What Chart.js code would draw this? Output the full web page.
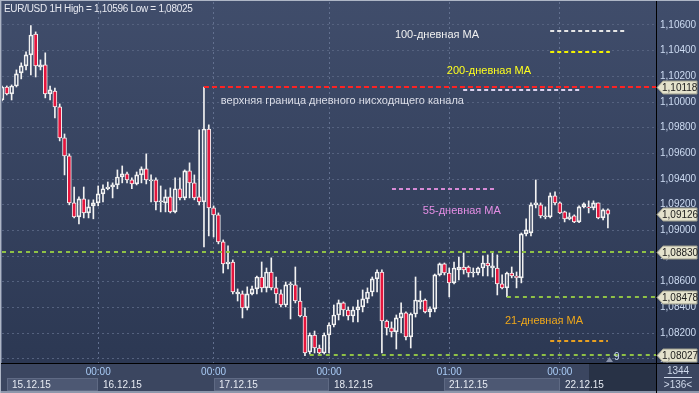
<!DOCTYPE html>
<html>
<head>
<meta charset="utf-8">
<script src="https://cdn.jsdelivr.net/npm/chart.js@4"></script>
<style>
  body { margin: 0; background: #34405c; }
  canvas { display: block; }
</style>
</head>
<body>
<canvas id="chart" width="699" height="393"></canvas>
<script>
  // trading sessions on screen: date, first hour, last hour (1H bars)
  const sessions = [
    ['15.12.15', 4, 23], ['16.12.15', 0, 23], ['17.12.15', 0, 23],
    ['18.12.15', 0, 23], ['21.12.15', 0, 23], ['22.12.15', 0, 10]
  ];
  const emptySlots = 10; // free space right of the last bar

  const opens = [
    1.10016, 1.10117, 1.10063, 1.10125, 1.10227, 1.10281, 1.10367, 1.10530, 1.10273, 1.10289,
    1.10063, 1.10086, 1.09962, 1.09720, 1.09580, 1.09214, 1.09105, 1.09245, 1.09136, 1.09191,
    1.09214, 1.09285, 1.09324, 1.09338, 1.09354, 1.09416, 1.09440, 1.09393, 1.09362, 1.09432,
    1.09479, 1.09385, 1.09393, 1.09222, 1.09214, 1.09261, 1.09144, 1.09324, 1.09253, 1.09463,
    1.09370, 1.09261, 1.09222, 1.09790, 1.09175, 1.09121, 1.08910, 1.08739, 1.08754, 1.08505,
    1.08505, 1.08396, 1.08505, 1.08544, 1.08637, 1.08552, 1.08676, 1.08552, 1.08505, 1.08419,
    1.08575, 1.08575, 1.08450, 1.08333, 1.08053, 1.08185, 1.08084, 1.08045, 1.08185, 1.08263,
    1.08341, 1.08435, 1.08380, 1.08333, 1.08380, 1.08404, 1.08466, 1.08520, 1.08622, 1.08676,
    1.08294, 1.08240, 1.08209, 1.08318, 1.08357, 1.08170, 1.08349, 1.08443, 1.08458, 1.08365,
    1.08388, 1.08653, 1.08739, 1.08668, 1.08591, 1.08692, 1.08715, 1.08715, 1.08668, 1.08668,
    1.08707, 1.08746, 1.08707, 1.08707, 1.08583, 1.08552, 1.08668, 1.08645, 1.08630, 1.08973,
    1.08980, 1.09199, 1.09199, 1.09105, 1.09105, 1.09269, 1.09214, 1.09144, 1.09090, 1.09113,
    1.09066, 1.09183, 1.09183, 1.09175, 1.09214, 1.09097, 1.09160
  ];
  const highs = [
    1.10125, 1.10125, 1.10133, 1.10250, 1.10305, 1.10390, 1.10596, 1.10546, 1.10328, 1.10383,
    1.10125, 1.10109, 1.09985, 1.09751, 1.09596, 1.09338, 1.09261, 1.09338, 1.09238, 1.09238,
    1.09346, 1.09354, 1.09377, 1.09370, 1.09471, 1.09502, 1.09455, 1.09409, 1.09455, 1.09495,
    1.09596, 1.09432, 1.09409, 1.09346, 1.09316, 1.09331, 1.09409, 1.09409, 1.09471, 1.09526,
    1.09432, 1.09783, 1.10117, 1.09822, 1.09191, 1.09136, 1.08926, 1.08879, 1.08770, 1.08544,
    1.08528, 1.08560, 1.08567, 1.08645, 1.08754, 1.08707, 1.08786, 1.08637, 1.08536, 1.08598,
    1.08598, 1.08715, 1.08552, 1.08396, 1.08201, 1.08216, 1.08107, 1.08201, 1.08279, 1.08419,
    1.08458, 1.08443, 1.08404, 1.08404, 1.08458, 1.08536, 1.08552, 1.08637, 1.08692, 1.08692,
    1.08302, 1.08287, 1.08341, 1.08435, 1.08365, 1.08357, 1.08637, 1.08528, 1.08466, 1.08404,
    1.08660, 1.08746, 1.08746, 1.08707, 1.08754, 1.08793, 1.08824, 1.08723, 1.08707, 1.08715,
    1.08801, 1.08809, 1.08832, 1.08809, 1.08653, 1.08676, 1.08715, 1.08676, 1.08980, 1.09090,
    1.09214, 1.09393, 1.09214, 1.09183, 1.09292, 1.09300, 1.09222, 1.09150, 1.09136, 1.09121,
    1.09191, 1.09214, 1.09230, 1.09230, 1.09214, 1.09168, 1.09168
  ];
  const lows = [
    1.10008, 1.10055, 1.10016, 1.10117, 1.10180, 1.10250, 1.10211, 1.10195, 1.10250, 1.10032,
    1.10016, 1.09877, 1.09697, 1.09432, 1.09199, 1.09097, 1.09051, 1.09097, 1.09097, 1.09090,
    1.09191, 1.09222, 1.09316, 1.09253, 1.09324, 1.09370, 1.09370, 1.09324, 1.09354, 1.09370,
    1.09362, 1.09222, 1.09160, 1.09144, 1.09144, 1.09136, 1.09136, 1.09238, 1.09238, 1.09253,
    1.09238, 1.09199, 1.08871, 1.08957, 1.08949, 1.08895, 1.08668, 1.08700, 1.08505, 1.08450,
    1.08318, 1.08380, 1.08497, 1.08505, 1.08520, 1.08520, 1.08536, 1.08435, 1.08404, 1.08404,
    1.08310, 1.08435, 1.08325, 1.08025, 1.08037, 1.08045, 1.08029, 1.08037, 1.08045, 1.08248,
    1.08302, 1.08333, 1.08302, 1.08287, 1.08287, 1.08365, 1.08435, 1.08489, 1.08520, 1.08045,
    1.08185, 1.08170, 1.08076, 1.08201, 1.08146, 1.08084, 1.08325, 1.08388, 1.08357, 1.08325,
    1.08365, 1.08645, 1.08653, 1.08482, 1.08583, 1.08614, 1.08660, 1.08637, 1.08637, 1.08653,
    1.08645, 1.08645, 1.08637, 1.08497, 1.08544, 1.08482, 1.08630, 1.08552, 1.08591, 1.08957,
    1.08957, 1.09175, 1.09097, 1.09090, 1.09097, 1.09199, 1.09130, 1.09066, 1.09082, 1.09060,
    1.09060, 1.09175, 1.09136, 1.09160, 1.09090, 1.09082, 1.09020
  ];
  const closes = [
    1.10117, 1.10063, 1.10125, 1.10219, 1.10281, 1.10367, 1.10522, 1.10281, 1.10289, 1.10063,
    1.10094, 1.09962, 1.09720, 1.09580, 1.09214, 1.09105, 1.09245, 1.09136, 1.09183, 1.09214,
    1.09285, 1.09324, 1.09338, 1.09354, 1.09416, 1.09440, 1.09393, 1.09362, 1.09432, 1.09479,
    1.09393, 1.09393, 1.09222, 1.09230, 1.09261, 1.09144, 1.09324, 1.09253, 1.09463, 1.09370,
    1.09253, 1.09222, 1.09790, 1.09175, 1.09121, 1.08910, 1.08739, 1.08754, 1.08520, 1.08520,
    1.08396, 1.08505, 1.08544, 1.08637, 1.08552, 1.08676, 1.08552, 1.08505, 1.08419, 1.08575,
    1.08583, 1.08450, 1.08333, 1.08045, 1.08185, 1.08084, 1.08045, 1.08185, 1.08263, 1.08341,
    1.08435, 1.08380, 1.08333, 1.08380, 1.08404, 1.08466, 1.08520, 1.08622, 1.08676, 1.08294,
    1.08240, 1.08209, 1.08318, 1.08357, 1.08170, 1.08349, 1.08458, 1.08458, 1.08365, 1.08388,
    1.08653, 1.08739, 1.08668, 1.08591, 1.08707, 1.08715, 1.08692, 1.08668, 1.08676, 1.08707,
    1.08746, 1.08723, 1.08723, 1.08583, 1.08552, 1.08668, 1.08645, 1.08630, 1.08973, 1.09004,
    1.09199, 1.09214, 1.09113, 1.09113, 1.09269, 1.09214, 1.09136, 1.09090, 1.09105, 1.09066,
    1.09183, 1.09206, 1.09175, 1.09214, 1.09097, 1.09160, 1.09126
  ];

  // price scale
  const priceMin = 1.07967;
  const priceMax = 1.10779;
  const priceStep = 0.002;

  // horizontal levels (price, first bar)
  const levelPrices = [1.10118, 1.08830, 1.08478, 1.08027];
  const levelStarts = [42, 0, 105, 64];
  // boxed prices on the right axis
  const markedPrices = [1.10118, 1.09126, 1.08830, 1.08478, 1.08027];

  // moving average notes: text, text anchor, marker price and bar span
  const maNames = ['100-дневная МА', '200-дневная МА', '55-дневная МА', '21-дневная МА'];
  const maTextBars = [81.7, 92.5, 87.5, 104.6];
  const maTextPrices = [1.10522, 1.10242, 1.09151, 1.08297];
  const maMarkPrices = [1.10553, 1.10390, 1.09323, 1.08139];
  const maMarkFrom = [114, 114, 81.1, 114];
  const maMarkTo = [130, 126.4, 102.9, 126];
  const channelNote = 'верхняя граница дневного нисходящего канала';

  const timeMarks = ['16.12.15 00:00', '17.12.15 00:00', '18.12.15 00:00', '21.12.15 01:00', '22.12.15 00:00'];

  // build bar labels
  const labels = [];
  sessions.forEach(s => {
    for (let h = s[1]; h <= s[2]; h++) {
      labels.push(s[0] + ' ' + String(h).padStart(2, '0') + ':00');
    }
  });
  for (let k = 0; k < emptySlots; k++) labels.push('');
  const markIdx = timeMarks.map(t => labels.indexOf(t));

  const font = "'Liberation Sans', Arial, sans-serif";
  const white = '#f2f2f2';
  const red = '#e5153d';

  const maColors = ['#f0f0f0', '#ffff1e', '#e58ee5', '#f0a81a'];
  const maMarkColors = ['#e6e6e6', '#f2f200', '#d68ad6', '#e9a020'];
  const levelColors = ['#ff2222', '#8fc146', '#8fc146', '#8fc146'];

  const fmt = v => v.toFixed(5).replace('.', ',');

  function dashed(ctx, x1, x2, y, color, dash) {
    ctx.save();
    ctx.strokeStyle = color;
    ctx.lineWidth = 2;
    ctx.setLineDash(dash);
    ctx.beginPath();
    ctx.moveTo(x1, Math.round(y));
    ctx.lineTo(x2, Math.round(y));
    ctx.stroke();
    ctx.restore();
  }

  const backdrop = {
    id: 'backdrop',
    beforeDraw(chart) {
      const ctx = chart.ctx;
      const g = ctx.createLinearGradient(0, 0, 0, 363);
      g.addColorStop(0, '#404d6b');
      g.addColorStop(1, '#2c3853');
      ctx.save();
      ctx.fillStyle = g;
      ctx.fillRect(0, 0, 699, 364);
      ctx.restore();
    }
  };

  const notes = {
    id: 'notes',
    afterDatasetsDraw(chart) {
      const ctx = chart.ctx;
      const x = chart.scales.x, y = chart.scales.y;
      const area = chart.chartArea;
      ctx.save();
      ctx.beginPath();
      ctx.rect(area.left, area.top, area.right - area.left, area.bottom - area.top);
      ctx.clip();

      // lavender MA line under the channel line
      dashed(ctx, x.getPixelForValue(95.9), x.getPixelForValue(120.2), y.getPixelForValue(1.10102) + 1, '#d9d2ee', [4, 3]);

      levelPrices.forEach((p, i) => {
        dashed(ctx, x.getPixelForValue(levelStarts[i]), area.right, y.getPixelForValue(p),
          levelColors[i], i === 0 ? [5, 3] : [4, 4]);
      });
      maMarkPrices.forEach((p, i) => {
        dashed(ctx, x.getPixelForValue(maMarkFrom[i]), x.getPixelForValue(maMarkTo[i]), y.getPixelForValue(p),
          maMarkColors[i], [4, 3]);
      });

      ctx.font = '11px ' + font;
      ctx.textBaseline = 'middle';
      ctx.textAlign = 'left';
      maNames.forEach((t, i) => {
        ctx.fillStyle = maColors[i];
        ctx.fillText(t, x.getPixelForValue(maTextBars[i]), y.getPixelForValue(maTextPrices[i]));
      });
      ctx.fillStyle = '#dcdee8';
      ctx.fillText(channelNote, x.getPixelForValue(45.5), y.getPixelForValue(1.10011));

      // small "9" marker at the bottom
      ctx.fillStyle = '#8a94aa';
      ctx.beginPath();
      ctx.moveTo(606, 362); ctx.lineTo(609.5, 357); ctx.lineTo(613, 362);
      ctx.fill();
      ctx.font = '10px ' + font;
      ctx.fillStyle = '#c6d6f0';
      ctx.fillText('9', 614, 357);
      ctx.restore();
    },
    afterDraw(chart) {
      const ctx = chart.ctx;
      const x = chart.scales.x, y = chart.scales.y;
      ctx.save();

      // bottom time panel
      ctx.fillStyle = '#3b4660';
      ctx.fillRect(0, 364, 699, 29);
      const dayStarts = sessions.map(s => labels.indexOf(s[0] + ' ' + String(s[1]).padStart(2, '0') + ':00'));
      ctx.font = '10px ' + font;
      ctx.textBaseline = 'middle';
      sessions.forEach((s, i) => {
        const x1 = Math.max(7, Math.round(x.getPixelForValue(dayStarts[i])));
        const x2 = i + 1 < sessions.length ? Math.round(x.getPixelForValue(dayStarts[i + 1])) : 656;
        if (i % 2 === 0) {
          ctx.fillStyle = '#4d5873';
          ctx.fillRect(x1, 378, x2 - x1, 13);
          ctx.strokeStyle = '#5f6a84';
          ctx.lineWidth = 1;
          ctx.strokeRect(x1 + 0.5, 378.5, x2 - x1 - 1, 12);
        }
      });
      ctx.fillStyle = 'rgba(28,36,54,0.6)';
      ctx.fillRect(589, 364, 67, 27);
      sessions.forEach((s, i) => {
        const x1 = Math.max(7, Math.round(x.getPixelForValue(dayStarts[i])));
        ctx.fillStyle = '#e6eaf2';
        ctx.textAlign = 'left';
        ctx.fillText(s[0], x1 + 5, 385);
      });
      ctx.textAlign = 'center';
      ctx.fillStyle = '#a9cbf5';
      markIdx.forEach((m, i) => {
        ctx.fillText(timeMarks[i].slice(9), x.getPixelForValue(m), 372);
      });
      ctx.fillStyle = '#8d97ab';
      ctx.fillRect(0, 391, 699, 2);

      // corner counter
      ctx.fillStyle = '#3b4660';
      ctx.fillRect(657, 364, 42, 27);
      ctx.fillStyle = '#cfd9ea';
      ctx.fillText('1344', 678, 371);
      ctx.fillText('>136<', 678, 385);
      ctx.fillRect(664, 377, 28, 1);

      // frame lines
      ctx.fillStyle = '#000000';
      ctx.fillRect(0, 363, 699, 1);
      ctx.fillRect(656, 0, 1, 393);
      ctx.fillStyle = '#aeb6c6';
      ctx.fillRect(0, 0, 1, 393);
      ctx.fillRect(0, 0, 699, 1);
      ctx.fillStyle = '#69748e';
      ctx.fillRect(1, 1, 1, 362);

      // boxed prices
      ctx.font = '10px ' + font;
      ctx.textAlign = 'left';
      markedPrices.forEach(p => {
        const yy = Math.round(y.getPixelForValue(p)) + 0.5;
        ctx.beginPath();
        ctx.moveTo(657, yy);
        ctx.lineTo(663, yy - 6.5);
        ctx.lineTo(697, yy - 6.5);
        ctx.lineTo(697, yy + 6.5);
        ctx.lineTo(663, yy + 6.5);
        ctx.closePath();
        ctx.fillStyle = '#e4e2cc';
        ctx.fill();
        ctx.strokeStyle = '#9c9c8c';
        ctx.lineWidth = 1;
        ctx.stroke();
        ctx.fillStyle = '#1b1b1b';
        ctx.fillText(fmt(p), 662, yy + 0.5);
      });

      // header
      ctx.font = '10px ' + font;
      ctx.letterSpacing = '-0.3px';
      ctx.fillStyle = '#e8eaf2';
      ctx.fillText('EUR/USD 1H High = 1,10596 Low = 1,08025', 4, 9);
      ctx.restore();
    }
  };

  const ctx = document.getElementById('chart').getContext('2d');
  new Chart(ctx, {
    type: 'bar',
    data: {
      labels: labels,
      datasets: [
        {
          label: 'Body',
          data: opens.map((o, i) => [o, closes[i]]),
          backgroundColor: opens.map((o, i) => closes[i] < o ? red : 'rgba(0,0,0,0)'),
          borderColor: white,
          borderWidth: 1,
          borderSkipped: false,
          barThickness: 4,
          grouped: false
        },
        {
          label: 'Upper wick',
          data: highs.map((h, i) => [Math.max(opens[i], closes[i]), h]),
          backgroundColor: white,
          barThickness: 1,
          grouped: false
        },
        {
          label: 'Lower wick',
          data: lows.map((l, i) => [l, Math.min(opens[i], closes[i])]),
          backgroundColor: white,
          barThickness: 1,
          grouped: false
        }
      ]
    },
    options: {
      responsive: false,
      animation: false,
      layout: { padding: { left: 2, top: 2, right: 0, bottom: 0 } },
      plugins: {
        legend: { display: false },
        tooltip: { enabled: false }
      },
      scales: {
        x: {
          offset: false,
          grid: {
            offset: false,
            drawTicks: false,
            color: c => markIdx.includes(c.index) ? '#62708f' : 'rgba(0,0,0,0)'
          },
          border: { display: false, dash: [2, 3] },
          ticks: { display: false },
          afterFit: s => { s.height = 30; s.paddingLeft = 0; s.paddingRight = 0; }
        },
        y: {
          position: 'right',
          min: priceMin,
          max: priceMax,
          ticks: {
            stepSize: priceStep,
            includeBounds: false,
            padding: 4,
            color: '#cddbf2',
            font: { size: 10, family: font },
            callback: v => fmt(v)
          },
          grid: { drawTicks: false, color: '#55627f' },
          border: { display: false, dash: [2, 3] },
          afterFit: s => { s.width = 43; s.paddingTop = 0; s.paddingBottom = 0; }
        }
      }
    },
    plugins: [backdrop, notes]
  });
</script>
</body>
</html>
